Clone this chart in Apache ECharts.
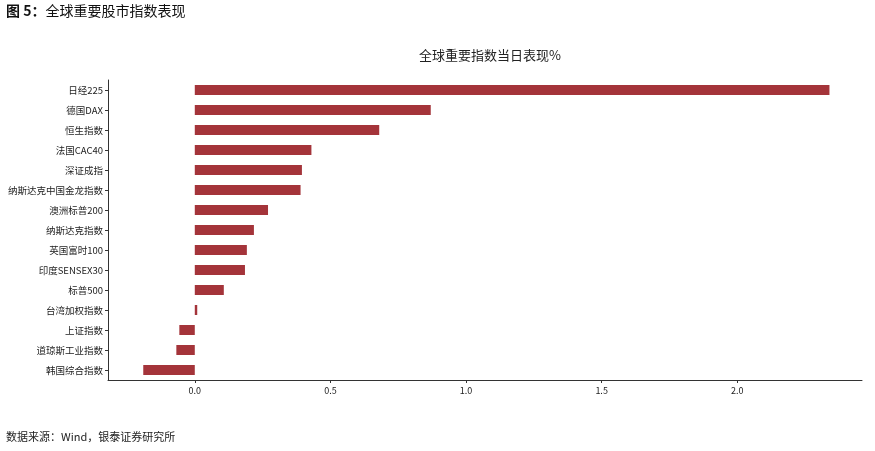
<!DOCTYPE html>
<html><head><meta charset="utf-8">
<script src="https://cdn.jsdelivr.net/npm/echarts@6/dist/echarts.min.js"></script>
<style>html,body{margin:0;padding:0;background:#fff;}#c{width:875px;height:451px;}</style>
</head><body><div id="c"></div>
<script>
const categories = ['日经225','德国DAX','恒生指数','法国CAC40','深证成指','纳斯达克中国金龙指数','澳洲标普200','纳斯达克指数','英国富时100','印度SENSEX30','标普500','台湾加权指数','上证指数','道琼斯工业指数','韩国综合指数'];
const values = [2.34, 0.87, 0.68, 0.43, 0.395, 0.39, 0.27, 0.218, 0.192, 0.185, 0.107, 0.009, -0.057, -0.068, -0.19];
const xTicks = [0, 0.5, 1.0, 1.5, 2.0];

const chart = echarts.init(document.getElementById('c'));
const cjk = '"Noto Sans CJK SC", "DejaVu Sans", sans-serif';
chart.setOption({
  animation: false,
  graphic: [
    {type:'text', left: 6, top: 4, style:{text:'{b|图 5：}{n|全球重要股市指数表现}',
      rich:{b:{fontFamily:cjk, fontSize:14, fontWeight:'bold', fill:'#111'}, n:{fontFamily:cjk, fontSize:14, fill:'#111'}}}},
    {type:'text', left: 6, top: 431, style:{text:'数据来源：Wind，银泰证券研究所', font:'11px "Noto Sans CJK SC"', fill:'#222'}}
  ],
  title: {text:'全球重要指数当日表现%', left: 485, top: 44, textAlign:'center',
    textStyle:{fontFamily:cjk, fontSize:13, fontWeight:'normal', color:'#222'}},
  grid: {left:108, right:13, top:80, bottom:71, containLabel:false},
  xAxis: {type:'value', min:-0.32, max:2.46,
    axisLine:{show:true, onZero:false, lineStyle:{color:'#333'}},
    axisTick:{show:true, customValues: xTicks, length:3, lineStyle:{color:'#333'}},
    axisLabel:{customValues: xTicks, formatter: v => v.toFixed(1), fontFamily:cjk, fontSize:9, color:'#222', margin:6},
    splitLine:{show:false}},
  yAxis: {type:'category', data:categories, inverse:true,
    axisLine:{show:true, onZero:false, lineStyle:{color:'#333'}},
    axisTick:{show:true, alignWithLabel:true, length:3, lineStyle:{color:'#333'}},
    axisLabel:{fontFamily:cjk, fontSize:9.5, color:'#222', margin:5}},
  series: [{type:'bar', data:values, barWidth:10, itemStyle:{color:'#a4343a'}}]
});
</script></body></html>
